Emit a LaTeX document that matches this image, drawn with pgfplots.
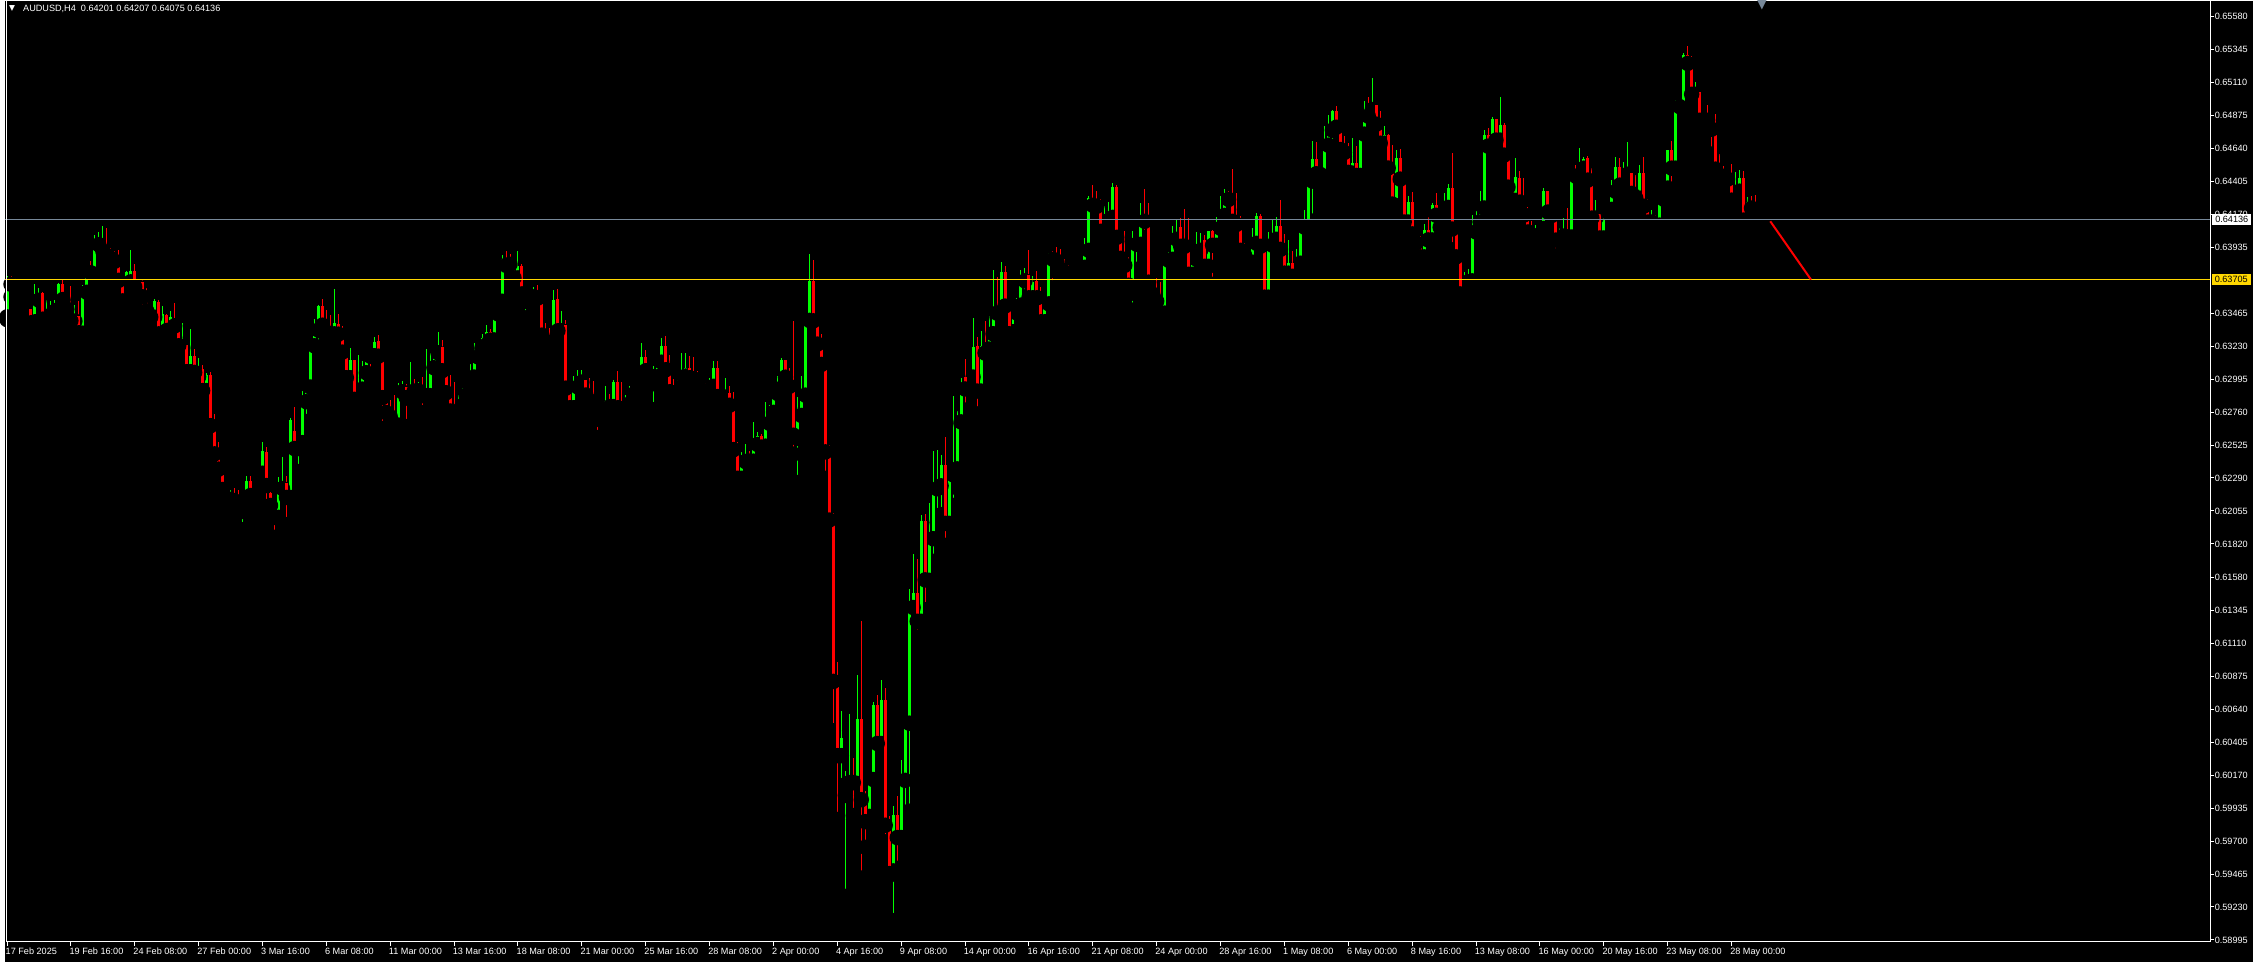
\documentclass[border=0pt]{standalone}
\usepackage{fontspec}
\setmainfont{Liberation Sans}
\newfontfamily\symfont{DejaVu Sans}
\usepackage{pgfplots}
\usepackage{pgfplotstable}
\pgfplotsset{compat=1.18}
\definecolor{bull}{RGB}{0,255,0}
\definecolor{bear}{RGB}{255,0,0}
\definecolor{bidline}{RGB}{119,136,153}
\definecolor{levelline}{RGB}{255,215,0}

% AUDUSD H4, bar index from 17 Feb 2025 00:00
\pgfplotstableread{
i o h l c
0 .63439 .63730 .63420 .63719
7 .63404 .63677 .63333 .63565
8 .63558 .63648 .63482 .63608
10 .63423 .63558 .63416 .63458
11 .63451 .63551 .63428 .63508
12 .63480 .63558 .63416 .63504
13 .63494 .63679 .63470 .63674
17 .63409 .63523 .63368 .63444
19 .63323 .63663 .63304 .63629
20 .63615 .63793 .63610 .63757
22 .63743 .64021 .63715 .63964
23 .63954 .64042 .63940 .64004
24 .63909 .64085 .63895 .63919
30 .63610 .63767 .63565 .63762
31 .63689 .63919 .63677 .63765
33 .63651 .63712 .63617 .63686
37 .63437 .63565 .63409 .63551
39 .63321 .63515 .63254 .63458
41 .63340 .63480 .63335 .63437
44 .63224 .63394 .63212 .63238
46 .63048 .63352 .62991 .63159
48 .63012 .63145 .62962 .63067
50 .62913 .63038 .62913 .63024
56 .62137 .62206 .62089 .62151
59 .62051 .62096 .61921 .62087
60 .62101 .62305 .62075 .62269
62 .62165 .62253 .62087 .62241
63 .62236 .62336 .62201 .62334
64 .62324 .62547 .62319 .62483
68 .62009 .62300 .61980 .62220
69 .62215 .62440 .62165 .62255
71 .62151 .62718 .62137 .62706
73 .62500 .62566 .62336 .62547
74 .62542 .62910 .62521 .62839
75 .62834 .62946 .62692 .62946
76 .62939 .63245 .62917 .63240
77 .63233 .63425 .63126 .63345
78 .63345 .63527 .63219 .63515
82 .63318 .63636 .63292 .63394
86 .63005 .63216 .62960 .63131
88 .62848 .63166 .62810 .62931
89 .62924 .63124 .62889 .63074
90 .63041 .63188 .62948 .63164
92 .63162 .63294 .63095 .63259
98 .62668 .62965 .62621 .62910
99 .62905 .62981 .62791 .62938
101 .62853 .63116 .62799 .62931
103 .62912 .62974 .62810 .62924
105 .62877 .63209 .62770 .62882
106 .62877 .63181 .62799 .63081
107 .63076 .63230 .63076 .63181
108 .63183 .63330 .63183 .63223
113 .62756 .62884 .62756 .62789
114 .62806 .62931 .62777 .62882
115 .62877 .62960 .62799 .62946
116 .62939 .63102 .62934 .63017
117 .63010 .63252 .62976 .63166
118 .63154 .63259 .63119 .63223
119 .63219 .63316 .63211 .63287
120 .63237 .63380 .63230 .63330
122 .63275 .63472 .63247 .63465
123 .63461 .63593 .63411 .63558
124 .63551 .63878 .63546 .63850
128 .63717 .63907 .63660 .63800
130 .63603 .63636 .63432 .63617
132 .63582 .63650 .63577 .63608
137 .63266 .63629 .63183 .63558
139 .63340 .63480 .63332 .63380
142 .62791 .63019 .62791 .62946
143 .62939 .63060 .62931 .62967
144 .62974 .63060 .62939 .62988
150 .62742 .62946 .62742 .62839
152 .62799 .62988 .62799 .62974
155 .62720 .62882 .62692 .62803
156 .62820 .62946 .62791 .62889
157 .62889 .62939 .62827 .62910
158 .62905 .62995 .62777 .62974
159 .62969 .63252 .62969 .63152
162 .63012 .63090 .62777 .63019
163 .63012 .63152 .62969 .63116
164 .63116 .63287 .63116 .63230
168 .62898 .62991 .62784 .62946
169 .62941 .63181 .62941 .63024
170 .63017 .63181 .63005 .63074
176 .62850 .63000 .62837 .62950
177 .62944 .63122 .62887 .63075
179 .62875 .62909 .62837 .62887
180 .62774 .63000 .62683 .62893
184 .62288 .62473 .62181 .62410
185 .62407 .62529 .62407 .62451
187 .62410 .62686 .62410 .62539
188 .62529 .62620 .62423 .62589
190 .62517 .62831 .62498 .62686
191 .62680 .62809 .62624 .62758
192 .62758 .62912 .62724 .62903
193 .62893 .63016 .62887 .62937
194 .62931 .63144 .62912 .63129
198 .62573 .62871 .62257 .62746
199 .62736 .63016 .62642 .62887
200 .62881 .63442 .62787 .63420
201 .63414 .63885 .63333 .63693
209 .60309 .60629 .60095 .60434
210 .60026 .60199 .59305 .60120
211 .60117 .60606 .60039 .60164
213 .60111 .60882 .60111 .60569
216 .59876 .60189 .59772 .60152
217 .60139 .60691 .60139 .60669
219 .60396 .60848 .60321 .60707
222 .59487 .59948 .59132 .59885
224 .59725 .60277 .59725 .60136
225 .60133 .60566 .59851 .60541
226 .60541 .61497 .59913 .61372
227 .61366 .61748 .61218 .61469
229 .61268 .62024 .61262 .61980
231 .61560 .62111 .61560 .61861
232 .61857 .62483 .61696 .62220
233 .62213 .62491 .61973 .62227
234 .62234 .62455 .62028 .62384
236 .61966 .62320 .61873 .62320
237 .62313 .62875 .62094 .62362
238 .62355 .62768 .62220 .62697
239 .62690 .63003 .62676 .62896
241 .62925 .63046 .62846 .63017
242 .63010 .63430 .62967 .63224
244 .62910 .63338 .62910 .63231
246 .63210 .63444 .63153 .63323
247 .63319 .63772 .63319 .63508
249 .63459 .63829 .63452 .63758
252 .63333 .63473 .63217 .63466
253 .63466 .63573 .63345 .63530
254 .63523 .63772 .63402 .63701
255 .63696 .63786 .63582 .63743
257 .63575 .63729 .63568 .63687
260 .63404 .63537 .63326 .63537
261 .63532 .63893 .63497 .63879
267 .63717 .63758 .63667 .63724
268 .63715 .63758 .63696 .63758
270 .63793 .64000 .63682 .63921
271 .63914 .64299 .63886 .64284
275 .64050 .64228 .64021 .64107
276 .64128 .64256 .64007 .64156
277 .64149 .64391 .64121 .64363
282 .63637 .64050 .63487 .63964
283 .63957 .64007 .63779 .63964
284 .63957 .64249 .63950 .64156
290 .63466 .63886 .63466 .63850
291 .63843 .63900 .63736 .63864
292 .63850 .64085 .63850 .64000
293 .63993 .64128 .63971 .64042
297 .63743 .63864 .63736 .63857
298 .63850 .64042 .63843 .63921
299 .63914 .64035 .63907 .63964
301 .63800 .64050 .63722 .64050
303 .63950 .64149 .63914 .64078
304 .64071 .64299 .64042 .64171
305 .64163 .64349 .64156 .64277
312 .63829 .64071 .63779 .63971
313 .63964 .64178 .63914 .64156
316 .63580 .64042 .63551 .63957
317 .63950 .64128 .63943 .63993
318 .63993 .64149 .63985 .64085
321 .63751 .63985 .63743 .63822
323 .63729 .63921 .63708 .63807
324 .63822 .64092 .63800 .64085
325 .64080 .64199 .64052 .64085
326 .64080 .64448 .64045 .64413
327 .64408 .64697 .64123 .64562
329 .64455 .64505 .64377 .64460
330 .64408 .64804 .64337 .64669
331 .64664 .64882 .64591 .64776
332 .64771 .64918 .64636 .64911
337 .64465 .64712 .64460 .64534
339 .64448 .64754 .64441 .64747
340 .64743 .64982 .64714 .64890
342 .64918 .65146 .64904 .64954
345 .64678 .64804 .64614 .64740
348 .64232 .64626 .64228 .64569
351 .64116 .64299 .64080 .64256
355 .63867 .64100 .63710 .64057
357 .63988 .64249 .63931 .64235
360 .64192 .64320 .64109 .64228
361 .64220 .64384 .64145 .64356
365 .63603 .63758 .63561 .63679
366 .63689 .63779 .63611 .63715
367 .63696 .64164 .63696 .64085
368 .64045 .64192 .64002 .64121
369 .64116 .64334 .64045 .64220
370 .64216 .64769 .64206 .64740
372 .64671 .64868 .64671 .64854
374 .64700 .65011 .64643 .64811
378 .64270 .64569 .64209 .64434
383 .64002 .64092 .63952 .64028
384 .64028 .64106 .63938 .64078
385 .64070 .64355 .64016 .64334
389 .63987 .64070 .63966 .64042
390 .64016 .64142 .64009 .64042
392 .64009 .64464 .63987 .64457
394 .64443 .64647 .64415 .64505
395 .64500 .64583 .64471 .64562
398 .64144 .64270 .64108 .64170
400 .64002 .64213 .63938 .64206
402 .64206 .64419 .64172 .64341
403 .64334 .64583 .64329 .64505
405 .64379 .64547 .64358 .64462
406 .64457 .64690 .64419 .64462
409 .64286 .64526 .64265 .64469
412 .64116 .64199 .64066 .64130
414 .64094 .64315 .64080 .64286
415 .64279 .64384 .64265 .64362
416 .64358 .64633 .64272 .64626
418 .64500 .64989 .64486 .64953
420 .64920 .65323 .64920 .65309
423 .65027 .65112 .64991 .65041
425 .64842 .64889 .64820 .64868
433 .64265 .64476 .64251 .64343
434 .64336 .64490 .64272 .64433
436 .64130 .64294 .64130 .64256
}\upbars

\pgfplotstableread{
i o h l c
1 .63689 .63734 .63582 .63672
2 .63672 .63719 .63568 .63658
3 .63665 .63677 .63594 .63651
4 .63658 .63691 .63625 .63646
5 .63648 .63648 .63539 .63558
6 .63494 .63563 .63354 .63397
9 .63608 .63620 .63404 .63423
14 .63672 .63700 .63558 .63563
15 .63570 .63570 .63439 .63494
16 .63501 .63658 .63361 .63411
18 .63444 .63551 .63276 .63326
21 .63760 .63836 .63677 .63753
25 .63919 .64075 .63867 .63878
26 .63886 .63931 .63810 .63857
27 .63862 .63907 .63795 .63836
28 .63843 .63919 .63693 .63700
29 .63712 .63712 .63508 .63553
32 .63765 .63819 .63603 .63653
34 .63686 .63712 .63432 .63582
35 .63579 .63648 .63444 .63482
36 .63480 .63494 .63361 .63437
38 .63544 .63563 .63318 .63318
40 .63454 .63463 .63219 .63342
42 .63399 .63537 .63290 .63375
43 .63378 .63411 .63197 .63233
45 .63238 .63259 .63048 .63048
47 .63159 .63209 .62955 .63043
49 .63067 .63095 .62856 .62913
51 .63024 .63046 .62649 .62663
52 .62666 .62747 .62443 .62462
53 .62469 .62547 .62315 .62353
54 .62320 .62381 .62208 .62208
55 .62210 .62253 .62096 .62137
57 .62141 .62220 .62108 .62127
58 .62134 .62206 .62051 .62051
61 .62269 .62305 .62103 .62165
65 .62476 .62512 .62039 .62236
66 .62184 .62248 .62051 .62094
67 .62101 .62125 .61866 .62009
70 .62255 .62305 .61956 .62151
72 .62626 .62796 .62500 .62500
79 .63515 .63565 .63333 .63380
80 .63380 .63487 .63238 .63330
81 .63330 .63451 .63219 .63318
83 .63387 .63458 .63283 .63316
84 .63294 .63373 .63131 .63188
85 .63195 .63209 .62998 .63005
87 .63131 .63135 .62846 .62851
91 .63169 .63202 .63005 .63159
93 .63266 .63309 .63154 .63159
94 .63166 .63173 .62642 .62863
95 .62867 .62867 .62642 .62756
96 .62761 .62846 .62585 .62727
97 .62732 .62882 .62621 .62668
100 .62938 .62960 .62656 .62863
102 .62938 .62995 .62870 .62910
104 .62924 .63010 .62756 .62877
109 .63223 .63273 .62988 .63055
110 .63060 .63060 .62841 .62898
111 .62903 .63024 .62685 .62768
112 .62775 .62974 .62756 .62761
121 .63330 .63351 .63204 .63273
125 .63850 .63907 .63800 .63807
126 .63828 .63885 .63786 .63814
127 .63821 .63836 .63667 .63717
129 .63800 .63814 .63546 .63603
131 .63615 .63646 .63539 .63582
133 .63608 .63665 .63546 .63574
134 .63579 .63598 .63211 .63309
135 .63316 .63394 .63219 .63254
136 .63259 .63359 .63214 .63230
138 .63565 .63636 .63283 .63340
140 .63380 .63415 .62898 .62931
141 .62939 .62960 .62706 .62791
145 .62988 .63017 .62839 .62882
146 .62889 .63003 .62834 .62839
147 .62846 .62981 .62706 .62749
148 .62756 .62796 .62578 .62742
149 .62749 .62782 .62699 .62706
151 .62839 .62889 .62720 .62799
153 .62974 .63052 .62791 .62791
154 .62803 .62974 .62670 .62720
160 .63152 .63202 .63031 .63055
161 .63060 .63074 .62955 .63012
165 .63230 .63302 .63062 .63062
166 .63062 .63166 .62877 .62905
167 .62912 .62995 .62834 .62898
171 .63074 .63159 .62948 .63005
172 .63012 .63152 .62941 .62998
173 .63005 .63052 .62962 .62984
174 .63005 .63024 .62898 .62920
175 .62918 .62965 .62805 .62862
178 .63075 .63122 .62856 .62871
181 .62893 .62944 .62736 .62809
182 .62815 .62903 .62479 .62492
183 .62501 .62545 .62257 .62288
186 .62460 .62479 .62313 .62410
189 .62589 .62605 .62442 .62511
195 .63129 .63129 .62950 .63009
196 .63009 .63075 .62909 .62944
197 .62950 .63408 .62460 .62595
202 .63693 .63844 .63402 .63411
203 .63414 .63414 .63144 .63245
204 .63257 .63314 .63094 .63100
205 .63107 .63116 .62288 .62476
206 .62482 .62523 .61968 .61990
207 .61999 .62037 .60487 .60839
208 .60842 .60977 .59854 .60309
212 .60164 .60293 .59882 .60117
214 .60569 .61268 .59436 .59995
215 .60007 .60054 .59656 .59838
218 .60669 .60741 .60352 .60396
220 .60707 .60792 .59694 .59813
221 .59813 .59876 .59455 .59468
223 .59885 .60023 .59505 .59725
228 .61469 .61711 .61155 .61268
230 .61980 .62031 .61350 .61563
235 .62384 .62583 .61809 .61966
240 .63010 .63138 .62775 .62925
243 .63231 .63295 .62747 .62910
245 .63224 .63409 .63174 .63181
248 .63508 .63722 .63437 .63466
250 .63758 .63800 .63437 .63516
251 .63523 .63523 .63304 .63319
256 .63736 .63914 .63568 .63575
258 .63694 .63765 .63518 .63575
259 .63580 .63651 .63347 .63404
262 .63879 .63907 .63646 .63850
263 .63857 .63936 .63760 .63836
264 .63836 .63921 .63772 .63779
265 .63786 .63850 .63660 .63758
266 .63765 .63807 .63667 .63720
269 .63758 .63765 .63708 .63710
272 .64284 .64377 .64142 .64235
273 .64242 .64334 .64149 .64228
274 .64235 .64277 .64014 .64050
278 .64363 .64377 .63978 .64007
279 .64014 .64050 .63758 .63857
280 .63864 .64050 .63758 .63807
281 .63815 .63864 .63601 .63665
285 .64156 .64349 .64007 .64121
286 .64128 .64249 .63594 .63687
287 .63694 .63729 .63516 .63601
288 .63594 .63715 .63551 .63551
289 .63558 .63687 .63430 .63466
294 .64078 .64142 .63929 .63943
295 .63950 .64206 .63914 .63943
296 .63950 .64142 .63736 .63743
300 .63985 .64021 .63800 .63800
302 .64050 .64057 .63672 .63950
306 .64299 .64334 .64206 .64277
307 .64284 .64491 .64085 .64121
308 .64128 .64320 .64085 .64099
309 .64107 .64156 .63914 .63914
310 .63929 .63964 .63751 .63879
311 .63879 .63900 .63772 .63829
314 .64156 .64171 .63850 .63943
315 .63950 .63971 .63558 .63580
319 .64085 .64270 .63886 .63921
320 .63929 .64028 .63736 .63751
322 .63822 .63907 .63651 .63729
328 .64562 .64690 .64408 .64460
333 .64911 .64940 .64792 .64792
334 .64762 .64833 .64612 .64633
335 .64640 .64726 .64584 .64612
336 .64640 .64676 .64422 .64470
338 .64534 .64655 .64372 .64448
341 .64890 .65011 .64864 .64871
343 .64954 .64954 .64764 .64814
344 .64819 .64911 .64633 .64678
346 .64740 .64747 .64486 .64501
347 .64520 .64662 .64194 .64244
349 .64569 .64640 .64337 .64422
350 .64427 .64427 .64016 .64116
352 .64256 .64327 .63988 .64031
353 .64035 .64057 .63945 .63967
354 .63978 .64014 .63803 .63867
356 .64057 .64149 .63959 .63988
358 .64235 .64320 .64156 .64164
359 .64171 .64192 .64059 .64078
362 .64356 .64605 .63917 .64066
363 .64071 .64071 .63867 .63867
364 .63872 .63907 .63582 .63603
371 .64740 .64783 .64629 .64657
373 .64854 .64854 .64686 .64700
375 .64811 .64819 .64550 .64593
376 .64591 .64612 .64230 .64365
377 .64370 .64391 .64187 .64273
379 .64427 .64477 .64180 .64258
380 .64263 .64427 .64152 .64166
381 .64173 .64220 .64009 .64045
382 .64049 .64120 .63902 .64002
386 .64334 .64334 .64187 .64187
387 .64191 .64227 .64073 .64163
388 .64170 .64170 .63874 .63987
391 .64042 .64213 .63973 .64009
393 .64462 .64519 .64350 .64443
396 .64569 .64590 .64400 .64415
397 .64419 .64498 .64073 .64144
399 .64170 .64184 .63909 .64002
401 .64206 .64241 .64116 .64187
404 .64505 .64576 .64350 .64379
407 .64462 .64490 .64286 .64320
408 .64334 .64448 .64265 .64286
410 .64469 .64583 .64222 .64229
411 .64234 .64279 .64094 .64116
413 .64130 .64163 .64066 .64087
417 .64633 .64697 .64294 .64500
419 .64953 .64989 .64925 .64939
421 .65309 .65373 .65162 .65247
422 .65252 .65302 .65005 .65027
424 .65041 .65041 .64842 .64842
426 .64868 .64953 .64792 .64842
427 .64846 .64854 .64600 .64778
428 .64782 .64884 .64443 .64493
429 .64498 .64604 .64415 .64450
430 .64455 .64512 .64343 .64436
431 .64443 .64469 .64372 .64422
432 .64433 .64533 .64272 .64272
435 .64433 .64483 .64094 .64130
437 .64256 .64298 .64187 .64215
438 .64227 .64305 .64066 .64194
439 .64201 .64207 .64075 .64136
}\downbars

\begin{document}
\begin{tikzpicture}[font=\fontsize{2.6}{3.1}\selectfont]
\fill[black] (0,0) rectangle (225.3mm,-96.3mm);
\begin{axis}[
  at={(0,0)}, anchor=north west,
  scale only axis, width=221mm, height=94.3mm,
  xmin=-0.625, xmax=551.875, ymin=0.589808, ymax=0.656939,
  clip mode=individual,
  axis line style={draw=none},
  tick align=outside, major tick length=0.4mm,
  every tick/.style={white, line width=0.1mm},
  xtick pos=bottom, ytick pos=right, yticklabel pos=right,
  xtick={0,16,...,432},
  xticklabels={17 Feb 2025,19 Feb 16:00,24 Feb 08:00,27 Feb 00:00,3 Mar 16:00,6 Mar 08:00,11 Mar 00:00,13 Mar 16:00,18 Mar 08:00,21 Mar 00:00,25 Mar 16:00,28 Mar 08:00,2 Apr 00:00,4 Apr 16:00,9 Apr 08:00,14 Apr 00:00,16 Apr 16:00,21 Apr 08:00,24 Apr 00:00,28 Apr 16:00,1 May 08:00,6 May 00:00,8 May 16:00,13 May 08:00,16 May 00:00,20 May 16:00,23 May 08:00,28 May 00:00},
  xticklabel style={anchor=north west, inner sep=0pt, text=white, xshift=-0.2mm, yshift=-0.15mm},
  ytick={0.65580,0.65345,0.65110,0.64875,0.64640,0.64405,0.64170,0.63935,0.63465,0.63230,0.62995,0.62760,0.62525,0.62290,0.62055,0.61820,0.61580,0.61345,0.61110,0.60875,0.60640,0.60405,0.60170,0.59935,0.59700,0.59465,0.59230,0.58995},
  yticklabels={0.65580,0.65345,0.65110,0.64875,0.64640,0.64405,0.64170,0.63935,0.63465,0.63230,0.62995,0.62760,0.62525,0.62290,0.62055,0.61820,0.61580,0.61345,0.61110,0.60875,0.60640,0.60405,0.60170,0.59935,0.59700,0.59465,0.59230,0.58995},
  yticklabel style={anchor=west, inner sep=0pt, text=white},
]
% wicks
\addplot[only marks, mark=none, error bars/.cd, y dir=plus, y explicit, error mark=none,
  error bar style={draw=bull, line width=0.1mm}]
  table[x=i, y=l, y error expr=\thisrow{h}-\thisrow{l}] {\upbars};
\addplot[only marks, mark=none, error bars/.cd, y dir=plus, y explicit, error mark=none,
  error bar style={draw=bear, line width=0.1mm}]
  table[x=i, y=l, y error expr=\thisrow{h}-\thisrow{l}] {\downbars};
% bodies
\addplot[only marks, mark=none, error bars/.cd, y dir=plus, y explicit, error mark=none,
  error bar style={draw=bull, line width=0.3mm}]
  table[x=i, y=o, y error expr=\thisrow{c}-\thisrow{o}] {\upbars};
\addplot[only marks, mark=none, error bars/.cd, y dir=plus, y explicit, error mark=none,
  error bar style={draw=bear, line width=0.3mm}]
  table[x=i, y=c, y error expr=\thisrow{o}-\thisrow{c}] {\downbars};

% bid and level lines
\addplot[bidline, line width=0.1mm] coordinates {(-0.625,0.64136) (551.875,0.64136)};
\addplot[levelline, line width=0.1mm] coordinates {(-0.625,0.63705) (551.875,0.63705)};
% trend line
\addplot[bear, line width=0.2mm] coordinates {(441.7,0.64121) (451.9,0.63705)};

% frame
\draw[white, line width=0.1mm] ([xshift=0.15mm]rel axis cs:0,1) -- ([xshift=0.15mm]rel axis cs:0,0) -- (rel axis cs:1,0) -- (rel axis cs:1,1);

% price boxes
\node[fill=white, text=black, inner xsep=0.3mm, inner ysep=0pt, minimum height=1.1mm, anchor=west]
  at ([xshift=0.15mm]axis cs:551.875,0.64136) {0.64136};
\node[fill=levelline, text=black, inner xsep=0.3mm, inner ysep=0pt, minimum height=1.1mm, anchor=west]
  at ([xshift=0.1mm]axis cs:551.875,0.63705) {0.63705};
\end{axis}
\node[text=white, inner sep=0pt] at (0.75mm,-0.75mm) {\symfont\fontsize{2.2}{3}\selectfont ▼};
\node[text=white, inner sep=0pt, anchor=base west] at (1.8mm,-1.07mm) {AUDUSD,H4\ \ 0.64201 0.64207 0.64075 0.64136};
% chart shift marker
\node[text=bidline, inner sep=0pt, anchor=north] at (176.1mm,0.15mm) {\symfont\fontsize{3.6}{4}\selectfont ▼};
\end{tikzpicture}
\end{document}
